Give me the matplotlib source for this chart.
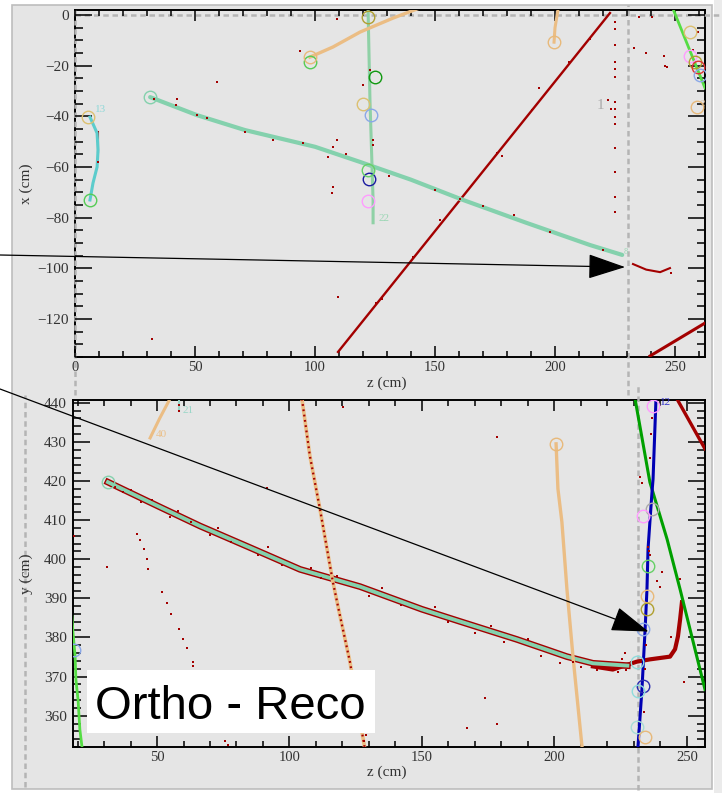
import matplotlib
matplotlib.use('Agg')
import matplotlib.pyplot as plt
from matplotlib.patches import Rectangle, ArrowStyle
from matplotlib.ticker import MultipleLocator

plt.rcParams['font.family'] = ['Liberation Serif', 'DejaVu Serif']

# ---------------- data : top view (z vs x) ----------------
teal_top_z = [31.3, 50.8, 70.8, 100.0, 118.8, 140.0, 161.7, 188.0, 214.6, 228.0]
teal_top_x = [-32.4, -39.5, -45.4, -52.0, -58.0, -65.0, -73.0, -82.0, -90.8, -94.7]
vert_top_z = [122.1, 122.9, 124.2, 124.2]
vert_top_x = [2.8, -33.6, -73.0, -82.0]
cyan_top_z = [6.25, 9.2, 9.6, 9.2, 7.5, 6.25]
cyan_top_x = [-40.3, -46.6, -53.3, -60.0, -66.3, -73.0]
tan_top_z = [97.9, 107.5, 118.8, 132.5, 142.5]
tan_top_x = [-16.6, -12.6, -6.7, -1.2, 2.4]
tan2_top_z = [201.3, 200.0, 199.6]
tan2_top_x = [2.4, -5.0, -10.7]
lime_top_z = [249.2, 262.5]
lime_top_x = [2.4, -28.8]
red_long_z = [109.6, 222.9]
red_long_x = [-133.0, 0.8]
red_br_z = [239.6, 262.5]
red_br_x = [-134.6, -121.6]
red_tail_z = [232.5, 238.0, 243.8, 247.9]
red_tail_x = [-98.3, -100.5, -101.5, -99.9]
red_seg_z = [9.6, 9.6]
red_seg_x = [-46.2, -54.1]

hits_top_z = [93.8, 59.2, 42.5, 50.8, 70.8, 82.5, 105.4, 107.5, 109.2, 107.5, 107.1, 109.2,
              32.1, 109.6, 124.2, 124.2, 120.0, 122.9, 193.3, 222.1, 223.3, 232.9, 237.9,
              245.4, 245.8, 246.7, 235.0, 240.4, 259.6, 257.5, 152.0, 9.6,
              224.8, 224.8, 224.8, 224.8, 224.8, 224.8, 224.8, 224.8, 224.8, 224.8, 224.8,
              224.8, 224.8, 224.8,
              125.5, 141.0, 160.5, 176.0, 190.5, 206.0, 214.5, 128.0, 178.0,
              33.0, 42.0, 55.0, 95.0, 113.0, 131.0, 150.0, 170.0, 183.0, 198.0, 220.0, 248.3]
hits_top_x = [-14.2, -26.5, -33.2, -39.5, -46.2, -49.3, -56.1, -52.1, -49.3, -67.9, -70.3, -1.6,
              -127.9, -111.3, -49.3, -51.3, -27.6, -21.7, -28.8, -33.6, -37.1, -13.0, -15.0,
              -16.2, -20.1, -20.5, -0.8, -0.8, -6.7, -13.8, -81.0, -58.0,
              -2.8, -5.5, -11.8, -18.6, -21.3, -24.5, -34.3, -37.1, -40.3, -43.0, -52.5,
              -62.0, -71.9, -77.8,
              -113.5, -95.6, -72.8, -54.4, -37.5, -18.6, -9.3, -112.0, -55.6,
              -33.0, -35.6, -40.5, -50.5, -55.0, -63.5, -69.0, -75.5, -79.0, -85.5, -92.8, -102.0]

circ_top_z = [31.3, 98.0, 97.9, 122.1, 124.8, 120.0, 123.3, 122.5, 122.1, 122.1, 6.25, 5.4,
              199.6, 256.2, 256.3, 258.3, 259.6, 260.4, 259.2]
circ_top_x = [-32.4, -18.6, -16.6, -0.8, -24.5, -35.1, -39.5, -64.7, -61.0, -73.3, -73.0, -40.3,
              -10.7, -6.7, -16.2, -18.6, -20.5, -23.7, -36.3]
circ_top_c = ['#84d1ad', '#55cc55', '#e8b97a', '#b0a030', '#119911', '#dcc070', '#8aa8e8',
              '#1a1aa0', '#66d066', '#ff9cff', '#55cc55', '#dcc070', '#e8b97a', '#dcc070',
              '#ff9cff', '#b0a030', '#dd3333', '#8aa8e8', '#e8b97a']

# ---------------- data : side view (z vs y) ----------------
teal_bot_z = [31.5, 50.0, 66.2, 85.0, 104.0, 126.6, 150.0, 164.3, 185.8, 197.0, 204.7, 214.5, 227.5]
teal_bot_y = [419.7, 413.7, 408.5, 403.0, 397.4, 393.0, 387.2, 384.1, 379.5, 376.9, 375.1, 373.4, 372.8]
redend_bot_z = [214.5, 222.0, 231.0, 236.0, 243.6, 245.5, 246.6, 247.4, 248.1]
redend_bot_y = [372.6, 371.8, 373.8, 374.4, 375.1, 377.0, 380.3, 384.6, 389.0]
tanlong_bot_z = [104.7, 107.7, 111.5, 116.4, 119.1, 122.8, 128.5]
tanlong_bot_y = [441.0, 426.4, 412.8, 394.1, 385.4, 373.8, 351.3]
tanshort_bot_z = [47.4, 51.0, 54.9]
tanshort_bot_y = [431.0, 436.0, 441.0]
tanright_bot_z = [200.6, 201.3, 202.8, 204.7, 207.0, 210.4]
tanright_bot_y = [429.5, 418.0, 409.5, 392.3, 375.0, 352.0]
blue_bot_z = [238.3, 237.2, 236.8, 236.0, 235.3, 234.9, 234.2, 233.0, 231.5]
blue_bot_y = [441.0, 420.5, 417.2, 409.5, 402.6, 392.3, 382.1, 366.7, 352.0]
green_bot_z = [230.4, 236.0, 242.5, 247.4, 256.8]
green_bot_y = [441.0, 419.7, 405.1, 392.3, 366.7]
lime_bot_z = [17.9, 18.3, 19.1, 19.4, 20.2, 20.9, 21.7]
lime_bot_y = [385.4, 381.3, 375.1, 369.2, 364.1, 356.4, 352.0]
redtr_bot_z = [246.2, 256.8]
redtr_bot_y = [441.0, 428.2]
tealshort_bot_z = [58.3, 58.3]
tealshort_bot_y = [441.0, 438.0]

trail_bot_z = [42.5, 43.6, 45.1, 46.2, 46.6, 51.9, 53.8, 55.3, 58.3, 59.8, 61.3, 63.6, 63.6, 75.7, 76.8]
trail_bot_y = [406.4, 404.9, 402.6, 400.0, 397.4, 391.5, 388.7, 385.9, 382.1, 379.5, 377.2, 373.8,
               372.8, 353.6, 352.6]
hits_bot_z = [34, 37, 40, 44, 48, 55, 58, 63, 70, 73, 78, 88, 92, 97, 108, 112, 118, 130, 135, 142,
              155, 160, 170, 176, 181, 190, 195, 202, 207, 210, 216, 220, 224, 227, 229, 225.5,
              31.1, 91.5, 178.3, 173.8, 167.0, 178.3, 120.2, 226.6, 240.6, 248.7, 18.6, 58.3, 58.3,
              236.8, 236.5, 236.0, 232.2, 233.0, 235.7, 236.1, 235.2, 238.5, 240.0, 234.5, 234.0,
              233.6, 129.0, 128.2, 244.0, 247.2]
hits_bot_y = [418.5, 417.2, 417.8, 414.5, 415.2, 410.8, 412.2, 409.6, 406.2, 408.0, 404.4, 401.0,
              403.2, 398.6, 397.8, 395.2, 395.8, 390.6, 392.6, 388.4, 387.8, 384.0, 381.2, 383.0,
              378.8, 379.6, 375.2, 373.4, 373.6, 372.4, 371.6, 372.0, 371.2, 371.8, 373.6, 374.6,
              398.0, 418.2, 431.3, 364.6, 356.9, 358.0, 439.0, 376.0, 396.7, 368.5, 406.0, 439.5,
              437.8, 436.0, 432.0, 426.0, 421.0, 419.5, 402.0, 401.0, 403.0, 394.5, 393.0, 378.0,
              372.0, 361.0, 355.0, 353.5, 380.0, 395.0]

circ_bot_z = [31.5, 200.6, 18.7, 237.2, 236.8, 233.4, 235.3, 234.9, 234.9, 233.4, 231.0, 233.4,
              231.5, 231.2, 234.2]
circ_bot_y = [419.7, 429.5, 376.7, 439.2, 412.8, 411.0, 398.2, 390.5, 387.2, 382.1, 373.8, 367.7,
              366.4, 357.0, 354.6]
circ_bot_c = ['#84d1ad', '#e8b97a', '#8aa8e8', '#ff9cff', '#aaaaaa', '#ff9cff', '#66d066',
              '#e8b97a', '#b0a030', '#8aa8e8', '#8fdcdc', '#2a2ab0', '#8fdcdc', '#a6dcd6', '#e8b97a']

# ---------------- colours ----------------
BG = '#e5e5e5'
TEAL = '#84d1ad'
RED = '#a30000'
TAN = '#ebbd84'
VGREEN = '#8fd1a6'
CYAN = '#5ccccc'
LIME = '#55dd44'
GREEN = '#00a000'
BLUE = '#0000b4'
GRAYD = '#b4b4b4'

W, H = 722, 793
fig = plt.figure(figsize=(W / 100, H / 100), dpi=100, facecolor='white')


def fx(px):
    return px / W


def fy(py):
    return 1 - py / H


fig.patches.append(Rectangle((fx(12), fy(789)), fx(712) - fx(12), fy(5) - fy(789),
                             transform=fig.transFigure, fc=BG, ec='#bdbdbd', lw=1.2, zorder=-5))
fig.patches.append(Rectangle((fx(714), 0), 1 - fx(714), 1, transform=fig.transFigure,
                             fc='#ebebeb', ec='none', zorder=-5))

ax1 = fig.add_axes([fx(75), fy(357), fx(705) - fx(75), fy(10) - fy(357)])
ax2 = fig.add_axes([fx(73), fy(747), fx(705) - fx(73), fy(400) - fy(747)])


def style(ax, xmaj, xmin, ymaj, ymin):
    ax.set_facecolor(BG)
    for s in ax.spines.values():
        s.set_linewidth(1.4)
        s.set_color('black')
        s.set_zorder(1)
    ax.xaxis.set_major_locator(MultipleLocator(xmaj))
    ax.xaxis.set_minor_locator(MultipleLocator(xmin))
    ax.yaxis.set_major_locator(MultipleLocator(ymaj))
    ax.yaxis.set_minor_locator(MultipleLocator(ymin))
    ax.tick_params(which='both', direction='in', top=True, right=True, color='black', width=1.1,
                   labelcolor='#333333')
    ax.tick_params(axis='y', which='major', length=12, labelsize=11, pad=4.5)
    ax.tick_params(axis='y', which='minor', length=6)
    ax.tick_params(axis='x', which='major', length=8, labelsize=10.5, pad=3)
    ax.tick_params(axis='x', which='minor', length=4.5)


style(ax1, 50, 10, 20, 5)
style(ax2, 50, 10, 10, 2)
ax1.set_xlim(0, 262.5)
ax1.set_ylim(-135, 2)
ax2.set_xlim(18.3, 256.8)
ax2.set_ylim(352, 440.7)

dash = dict(color=GRAYD, lw=1.8, dashes=(2.2, 1.5), clip_on=False, zorder=1.5)
ax1.axvline(0, ymin=-0.11, ymax=1.0, **dash)
ax1.axvline(230.4, ymin=-0.11, ymax=1.014, **dash)
ax1.axhline(0, xmin=0, xmax=1.027, **dash)
ax2.axvline(0, ymin=-0.115, ymax=1.015, **dash)
ax2.axvline(231.6, ymin=-0.124, ymax=1.049, **dash)

HIT = dict(color=RED, ms=2.1, mew=0, zorder=4)

# ---- top panel tracks ----
ax1.plot(red_long_z, red_long_x, color=RED, lw=1.7, zorder=2)
ax1.plot(red_br_z, red_br_x, color=RED, lw=2.2, zorder=2)
ax1.plot(red_tail_z, red_tail_x, color=RED, lw=1.5, zorder=2)
ax1.plot(red_seg_z, red_seg_x, color=RED, lw=1.5, zorder=2)
ax1.plot(teal_top_z, teal_top_x, color=TEAL, lw=3, solid_capstyle='round', zorder=3)
ax1.plot(vert_top_z, vert_top_x, color=VGREEN, lw=2.2, zorder=3)
ax1.plot(cyan_top_z, cyan_top_x, color=CYAN, lw=2.2, zorder=3)
ax1.plot(tan_top_z, tan_top_x, color=TAN, lw=2.4, zorder=3)
ax1.plot(tan2_top_z, tan2_top_x, color=TAN, lw=2.2, zorder=3)
ax1.plot(lime_top_z, lime_top_x, color=LIME, lw=2.0, zorder=3)
ax1.plot(hits_top_z, hits_top_x, 's', **HIT)
for z, x, c in zip(circ_top_z, circ_top_x, circ_top_c):
    ax1.plot(z, x, 'o', ms=9, mfc='none', mec=c, mew=1.0, zorder=5)

lab = dict(fontsize=8, zorder=6)
ax1.text(8.3, -39.1, '13', color='#8fd8d8', ha='left', va='bottom', **lab)
ax1.text(126.3, -80.5, '22', color='#9ad6b4', ha='left', va='center', **lab)
ax1.text(218.8, -35.9, '1', color='#aaaaaa', ha='center', va='center', fontsize=11, zorder=6)
ax1.text(228.6, -93.6, '8', color='#9ad6b4', ha='left', va='center', fontsize=6, zorder=6)
ax1.text(260.5, -35.0, '25', color='#d8b890', ha='left', va='center', fontsize=6, zorder=6,
         clip_on=True)

ax1.set_xlabel('z (cm)', fontsize=11, color='#333333')
ax1.set_ylabel('x (cm)', fontsize=11, color='#333333')
ax1.xaxis.set_label_coords(0.495, -0.055)
ax1.yaxis.set_label_coords(-0.067, 0.5)

# ---- bottom panel tracks ----
ax2.plot(teal_bot_z, teal_bot_y, color=RED, lw=4.8, zorder=2)
ax2.plot(redend_bot_z, redend_bot_y, color=RED, lw=3.0, zorder=2)
ax2.plot(redtr_bot_z, redtr_bot_y, color=RED, lw=2.4, zorder=2)
ax2.plot(teal_bot_z, teal_bot_y, color=TEAL, lw=2.8, zorder=3)
ax2.plot(tanlong_bot_z, tanlong_bot_y, color=TAN, lw=2.6, zorder=3)
ax2.plot(tanlong_bot_z, tanlong_bot_y, color=RED, lw=1.6, dashes=(0.8, 1.6), zorder=3.5)
ax2.plot(tanshort_bot_z, tanshort_bot_y, color=TAN, lw=2.2, zorder=3)
ax2.plot(tanright_bot_z, tanright_bot_y, color=TAN, lw=2.4, zorder=3)
ax2.plot(tealshort_bot_z, tealshort_bot_y, color='#9ad6c8', lw=1.5, zorder=3)
ax2.plot(green_bot_z, green_bot_y, color=GREEN, lw=2.2, zorder=3)
ax2.plot(blue_bot_z, blue_bot_y, color=BLUE, lw=2.2, zorder=3.2)
ax2.plot(lime_bot_z, lime_bot_y, color=LIME, lw=2.0, zorder=3)
ax2.plot(trail_bot_z, trail_bot_y, 's', **HIT)
ax2.plot(hits_bot_z, hits_bot_y, 's', **HIT)
for z, y, c in zip(circ_bot_z, circ_bot_y, circ_bot_c):
    ax2.plot(z, y, 'o', ms=9, mfc='none', mec=c, mew=1.0, zorder=5)

ax2.text(240.0, 440.0, '12', color='#3333cc', ha='left', va='center', **lab)
ax2.text(59.5, 438.0, '21', color='#9ad6c8', ha='left', va='center', **lab)
ax2.text(49.5, 432.0, '40', color='#ebc08a', ha='left', va='center', **lab)

ax2.set_xlabel('z (cm)', fontsize=11, color='#333333')
ax2.set_ylabel('y (cm)', fontsize=11, color='#333333')
ax2.xaxis.set_label_coords(0.497, -0.052)
ax2.yaxis.set_label_coords(-0.063, 0.5)

# ---- arrows ----
astyle = ArrowStyle('-|>', head_length=23.8, head_width=7.9)
ax1.annotate('', xy=(229.2, -99.5), xycoords='data', xytext=(0.0, fy(255)),
             textcoords='figure fraction', annotation_clip=False,
             arrowprops=dict(arrowstyle=astyle, mutation_scale=1, lw=0.9, color='black',
                             shrinkA=0, shrinkB=0, clip_on=False), zorder=8)
ax2.annotate('', xy=(235.5, 381.5), xycoords='data', xytext=(0.0, fy(389)),
             textcoords='figure fraction', annotation_clip=False,
             arrowprops=dict(arrowstyle=astyle, mutation_scale=1, lw=0.9, color='black',
                             shrinkA=0, shrinkB=0, clip_on=False), zorder=8)

# ---- label box ----
fig.patches.append(Rectangle((fx(87), fy(733)), fx(375) - fx(87), fy(670) - fy(733),
                             transform=fig.transFigure, fc='white', ec='none', zorder=5))
fig.text(fx(95), fy(719), 'Ortho - Reco', fontsize=34, family=['Liberation Sans', 'DejaVu Sans'],
         color='black', ha='left', va='baseline', zorder=6)

fig.savefig('out.png', dpi=100, facecolor=fig.get_facecolor())
